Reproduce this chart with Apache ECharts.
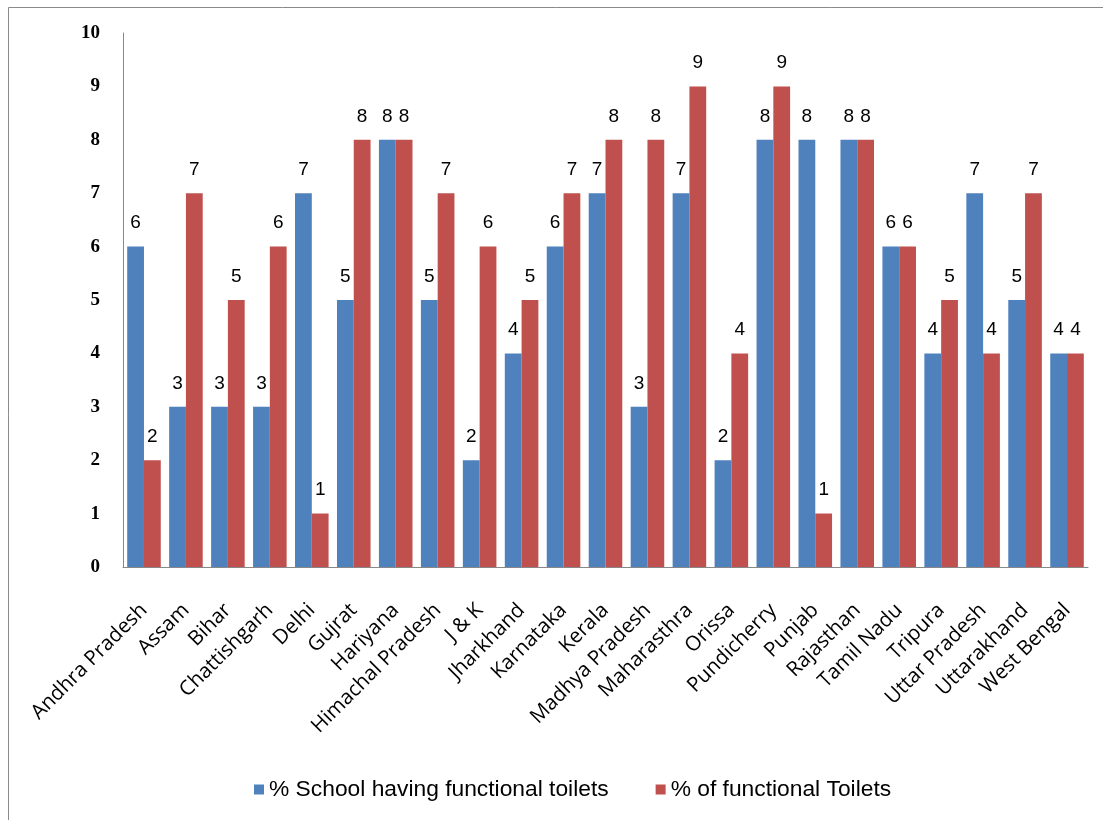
<!DOCTYPE html>
<html>
<head>
<meta charset="utf-8">
<script src="https://cdn.jsdelivr.net/npm/echarts@6/dist/echarts.min.js"></script>
<style>
html,body{margin:0;padding:0;background:#fff;}
#c{width:1103px;height:820px;}
</style>
</head>
<body>
<div id="c"></div>
<script>
const categories = ["Andhra Pradesh","Assam","Bihar","Chattishgarh","Delhi","Gujrat","Hariyana","Himachal Pradesh","J & K","Jharkhand","Karnataka","Kerala","Madhya Pradesh","Maharasthra","Orissa","Pundicherry","Punjab","Rajasthan","Tamil Nadu","Tripura","Uttar Pradesh","Uttarakhand","West Bengal"];
const schoolToilets = [6,3,3,3,7,5,8,5,2,4,6,7,3,7,2,8,8,8,6,4,7,5,4];
const functionalToilets = [2,7,5,6,1,8,8,7,6,5,7,8,8,9,4,9,1,8,6,5,4,7,4];
const seriesNames = ["% School having functional toilets","% of functional Toilets"];
const yTicks = [0,1,2,3,4,5,6,7,8,9,10];

const chart = echarts.init(document.getElementById('c'));
const labelStyle = {
  show: true, position: 'top', distance: 14,
  fontFamily: 'Liberation Sans', fontSize: 19, color: '#000'
};
chart.setOption({
  animation: false,
  backgroundColor: '#fff',
  graphic: [{
    type: 'rect', shape: {x: 8.5, y: 7.5, width: 1200, height: 900},
    style: {fill: 'none', stroke: '#8a8a8a', lineWidth: 1}, silent: true
  }],
  grid: {left: 123, right: 15, top: 33, bottom: 253},
  legend: {
    bottom: 14, left: 249, itemWidth: 10, itemHeight: 10, itemGap: 47,
    icon: 'rect',
    textStyle: {fontFamily: 'Liberation Sans', fontSize: 22.8, color: '#000'},
    data: seriesNames
  },
  xAxis: {
    type: 'category', data: categories,
    axisLine: {lineStyle: {color: '#888'}},
    axisTick: {show: false},
    axisLabel: {interval: 0, rotate: 45, margin: 40, fontFamily: 'Open Sans', fontSize: 20.5, color: '#000'}
  },
  yAxis: {
    type: 'value', min: 0, max: 10, interval: 1,
    axisLine: {show: true, lineStyle: {color: '#888'}},
    axisTick: {show: false},
    splitLine: {show: false},
    axisLabel: {margin: 23, fontFamily: 'Liberation Serif', fontWeight: 'bold', fontSize: 19, color: '#000',
      formatter: v => yTicks.includes(v) ? String(v) : ''}
  },
  series: [
    {name: seriesNames[0], type: 'bar', data: schoolToilets, barGap: '0%', barCategoryGap: '20%',
     itemStyle: {color: '#4F81BD'}, label: labelStyle},
    {name: seriesNames[1], type: 'bar', data: functionalToilets,
     itemStyle: {color: '#C0504D'}, label: labelStyle}
  ]
});
</script>
</body>
</html>
